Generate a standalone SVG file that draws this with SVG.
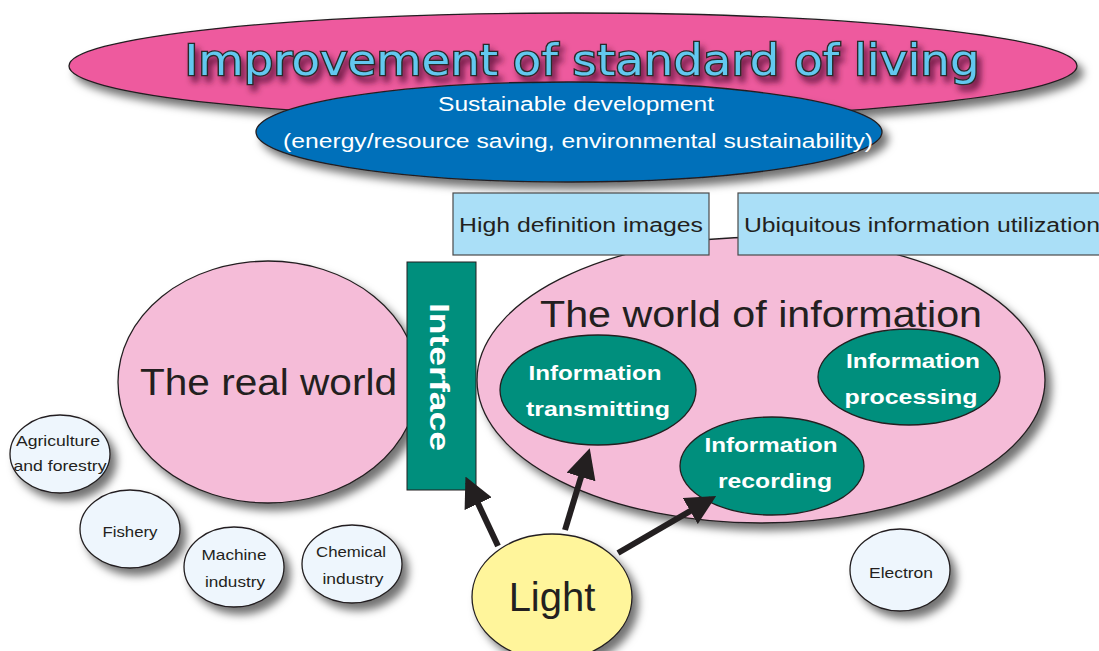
<svg xmlns="http://www.w3.org/2000/svg" width="1099" height="651" viewBox="0 0 1099 651">
<defs>
<filter id="sh" x="-20%" y="-20%" width="150%" height="160%">
<feDropShadow dx="6" dy="7" stdDeviation="4" flood-color="#000" flood-opacity="0.55"/>
</filter>
<filter id="tsh" x="-5%" y="-30%" width="110%" height="170%">
<feDropShadow dx="4" dy="6" stdDeviation="3" flood-color="#3a0020" flood-opacity="0.7"/>
</filter>
<marker id="ah" viewBox="0 0 10 10" refX="8" refY="5" markerWidth="5" markerHeight="5" orient="auto" markerUnits="strokeWidth">
<path d="M0,0 L10,5 L0,10 z" fill="#231f20"/>
</marker>
<style>
.ol{stroke:#231f20;stroke-width:1.3}
.t{font-family:"Liberation Sans","DejaVu Sans",sans-serif}
.ind{fill:#eef6fd}
.teal{fill:#008f7d}
.wb{fill:#fff;font-weight:bold;font-size:21px}
.it{fill:#231f20;font-size:15px}
.box{fill:#aadff7;stroke:#4a4a4a;stroke-width:1.2}
.bt{fill:#231f20;font-size:20px}
.arr{stroke:#231f20;stroke-width:6;fill:none;marker-end:url(#ah)}
</style>
</defs>
<rect width="1099" height="651" fill="#fff"/>

<g id="living">
<ellipse cx="573" cy="66" rx="504" ry="53" fill="#ee5a9e" class="ol" filter="url(#sh)"/>
<text x="582" y="75" text-anchor="middle" font-family="'DejaVu Sans','Liberation Sans',sans-serif" font-size="43" textLength="795" lengthAdjust="spacingAndGlyphs" fill="#62c8ef" stroke="#2a2a2a" stroke-width="2.6" paint-order="stroke" filter="url(#tsh)">Improvement of standard of living</text>
</g>

<g id="sustainable">
<ellipse cx="569" cy="132" rx="313" ry="50" fill="#0070ba" class="ol" filter="url(#sh)"/>
<text x="576" y="111" text-anchor="middle" class="t" font-size="20" fill="#fff" textLength="276" lengthAdjust="spacingAndGlyphs">Sustainable development</text>
<text x="578" y="148" text-anchor="middle" class="t" font-size="20" fill="#fff" textLength="590" lengthAdjust="spacingAndGlyphs">(energy/resource saving, environmental sustainability)</text>
</g>

<g id="realworld">
<ellipse cx="268" cy="382" rx="150" ry="121" fill="#f5bcd8" class="ol" filter="url(#sh)"/>
<text x="140" y="395" class="t" font-size="36" fill="#231f20" textLength="257" lengthAdjust="spacingAndGlyphs">The real world</text>
</g>

<g id="infoworld">
<ellipse cx="761" cy="380" rx="284" ry="143" fill="#f5bcd8" class="ol" filter="url(#sh)"/>
<text x="540" y="327" class="t" font-size="36" fill="#231f20" textLength="442" lengthAdjust="spacingAndGlyphs">The world of information</text>
</g>

<g id="hdimages">
<rect x="453" y="193" width="256" height="62" class="box"/>
<text x="581" y="232" text-anchor="middle" class="t bt" textLength="244" lengthAdjust="spacingAndGlyphs">High definition images</text>
</g>

<g id="ubiquitous">
<rect x="738" y="193" width="370" height="62" class="box"/>
<text x="744" y="232" class="t bt" textLength="356" lengthAdjust="spacingAndGlyphs">Ubiquitous information utilization</text>
</g>

<g id="interface">
<rect x="407" y="262" width="69" height="228" class="teal" stroke="#231f20" stroke-width="1"/>
<text x="0" y="0" transform="translate(430,377) rotate(90)" text-anchor="middle" class="t" font-size="27" font-weight="bold" fill="#fff" textLength="148" lengthAdjust="spacingAndGlyphs">Interface</text>
</g>

<g id="transmitting">
<ellipse cx="598" cy="390" rx="98" ry="55" class="teal ol"/>
<text x="595" y="380" text-anchor="middle" class="t wb" textLength="133" lengthAdjust="spacingAndGlyphs">Information</text>
<text x="598" y="416" text-anchor="middle" class="t wb" textLength="144" lengthAdjust="spacingAndGlyphs">transmitting</text>
</g>

<g id="processing">
<ellipse cx="909" cy="377" rx="91" ry="48" class="teal ol"/>
<text x="913" y="368" text-anchor="middle" class="t wb" textLength="134" lengthAdjust="spacingAndGlyphs">Information</text>
<text x="911" y="404" text-anchor="middle" class="t wb" textLength="133" lengthAdjust="spacingAndGlyphs">processing</text>
</g>

<g id="recording">
<ellipse cx="772" cy="466" rx="92" ry="49" class="teal ol"/>
<text x="771" y="452" text-anchor="middle" class="t wb" textLength="133" lengthAdjust="spacingAndGlyphs">Information</text>
<text x="775" y="488" text-anchor="middle" class="t wb" textLength="114" lengthAdjust="spacingAndGlyphs">recording</text>
</g>

<g id="agriculture">
<ellipse cx="60" cy="454" rx="50" ry="39" class="ind ol" filter="url(#sh)"/>
<text x="58" y="446" text-anchor="middle" class="t it" textLength="84" lengthAdjust="spacingAndGlyphs">Agriculture</text>
<text x="60" y="471" text-anchor="middle" class="t it" textLength="93" lengthAdjust="spacingAndGlyphs">and forestry</text>
</g>

<g id="fishery">
<ellipse cx="130" cy="529" rx="50" ry="39" class="ind ol" filter="url(#sh)"/>
<text x="130" y="537" text-anchor="middle" class="t it" textLength="55" lengthAdjust="spacingAndGlyphs">Fishery</text>
</g>

<g id="machine">
<ellipse cx="234" cy="567" rx="50" ry="40" class="ind ol" filter="url(#sh)"/>
<text x="234" y="560" text-anchor="middle" class="t it" textLength="65" lengthAdjust="spacingAndGlyphs">Machine</text>
<text x="235" y="587" text-anchor="middle" class="t it" textLength="60" lengthAdjust="spacingAndGlyphs">industry</text>
</g>

<g id="chemical">
<ellipse cx="352" cy="564" rx="50" ry="39" class="ind ol" filter="url(#sh)"/>
<text x="351" y="557" text-anchor="middle" class="t it" textLength="70" lengthAdjust="spacingAndGlyphs">Chemical</text>
<text x="353" y="584" text-anchor="middle" class="t it" textLength="61" lengthAdjust="spacingAndGlyphs">industry</text>
</g>

<g id="electron">
<ellipse cx="900" cy="570" rx="50" ry="41" class="ind ol" filter="url(#sh)"/>
<text x="901" y="578" text-anchor="middle" class="t it" textLength="64" lengthAdjust="spacingAndGlyphs">Electron</text>
</g>

<g id="connectors">
<line x1="498" y1="546" x2="468" y2="482" class="arr"/>
<line x1="565" y1="530" x2="588" y2="454" class="arr"/>
<line x1="618" y1="553" x2="711" y2="499" class="arr"/>
</g>

<g id="light">
<ellipse cx="552" cy="597" rx="80" ry="63" fill="#fff59b" class="ol" filter="url(#sh)"/>
<text x="552" y="611" text-anchor="middle" class="t" font-size="40" fill="#231f20">Light</text>
</g>
</svg>
